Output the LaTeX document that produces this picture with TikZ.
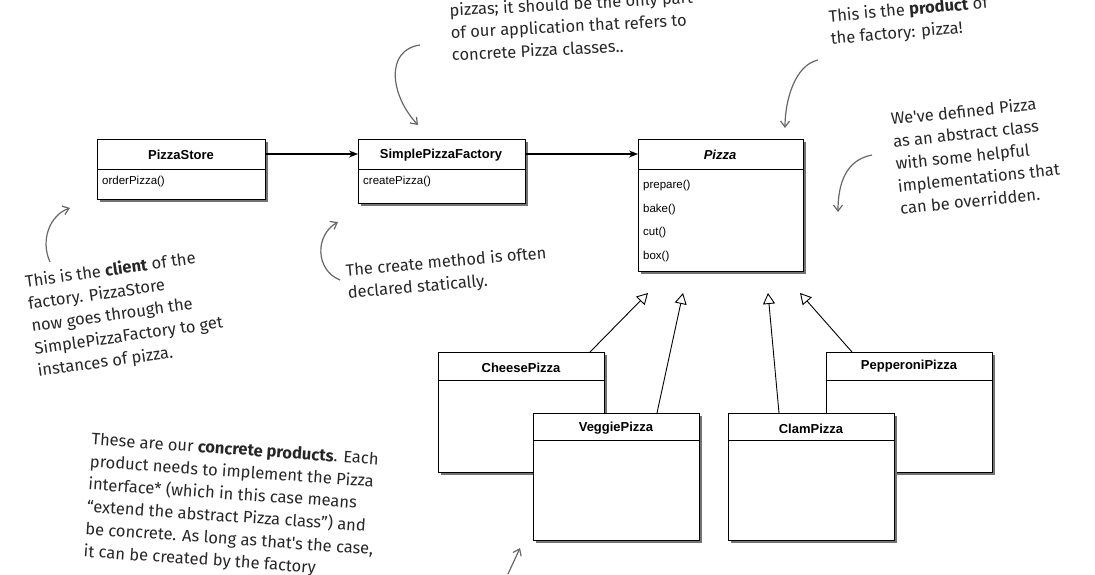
\documentclass[tikz,border=0pt]{standalone}
\usepackage{fontspec}
\setmainfont{Liberation Sans}
\newfontfamily\hand{Fira Sans}
\usetikzlibrary{arrows.meta,shadows}
\begin{document}
\begin{tikzpicture}[x=1pt,y=-1pt,
  cls/.style={draw=black,fill=white,line width=0.8pt,drop shadow={shadow xshift=3pt,shadow yshift=-3pt,fill=black!55,opacity=1}},
  hd/.style={font=\bfseries\fontsize{13}{15}\selectfont},
  op/.style={font=\fontsize{11.5}{23.5}\selectfont,anchor=north west,align=left,inner sep=0pt},
  note/.style={font=\hand\fontsize{16.5}{22.5}\selectfont,align=left,text=black!85,inner sep=0pt},
  cur/.style={draw=black!60,line width=1.2pt,-{Straight Barb[length=6pt,width=9pt]}},
  assoc/.style={line width=1.5pt,-{Stealth[length=9pt,width=7pt]}},
  inh/.style={line width=0.9pt,-{Triangle[open,length=11pt,width=12pt,fill=white]}}]
\useasboundingbox (0,0) rectangle (1095,574);
\begin{scope}
\clip (0,0) rectangle (1095,574);
% classes
\node[cls,minimum width=168pt,minimum height=60pt,anchor=north west] (ps) at (97,139) {};
\draw (ps.west |- 0,169) -- (ps.east |- 0,169);
\node[hd] (psn) at (181,155) {PizzaStore};
\node[op] (pso) at (102,176) {orderPizza()};

\node[cls,minimum width=167pt,minimum height=64pt,anchor=north west] (sf) at (358,139) {};
\draw (sf.west |- 0,169) -- (sf.east |- 0,169);
\node[hd] (sfn) at (441,155) {SimplePizzaFactory};
\node[op] (sfo) at (363,176) {createPizza()};

\node[cls,minimum width=165pt,minimum height=132pt,anchor=north west] (pz) at (638,139) {};
\draw (pz.west |- 0,169) -- (pz.east |- 0,169);
\node[hd,font=\bfseries\itshape\fontsize{13}{15}\selectfont] (pzn) at (720,155) {Pizza};
\node[op] (pzo) at (643,180) {prepare()\\bake()\\cut()\\box()};

\node[cls,minimum width=166pt,minimum height=120pt,anchor=north west] (ch) at (438,352) {};
\draw (ch.west |- 0,380) -- (ch.east |- 0,380);
\node[hd] (chn) at (521,368) {CheesePizza};

\node[cls,minimum width=166pt,minimum height=120pt,anchor=north west] (pp) at (826,352) {};
\draw (pp.west |- 0,380) -- (pp.east |- 0,380);
\node[hd] (ppn) at (909,366) {PepperoniPizza};

\node[cls,minimum width=166pt,minimum height=127pt,anchor=north west] (vg) at (533,413) {};
\draw (vg.west |- 0,440) -- (vg.east |- 0,440);
\node[hd] (vgn) at (616,428) {VeggiePizza};

\node[cls,minimum width=166pt,minimum height=127pt,anchor=north west] (cl) at (728,413) {};
\draw (cl.west |- 0,440) -- (cl.east |- 0,440);
\node[hd] (cln) at (811,429) {ClamPizza};

% connectors
\draw[assoc] (ps.east |- 0,154) -- (sf.west |- 0,154);
\draw[assoc] (sf.east |- 0,154) -- (pz.west |- 0,154);
\coordinate (t1) at (648,293); \coordinate (t2) at (683,293);
\coordinate (t3) at (768,293); \coordinate (t4) at (800,293);
\draw[inh] (ch.north -| 590,0) -- (t1);
\draw[inh] (vg.north -| 657,0) -- (t2);
\draw[inh] (cl.north -| 779,0) -- (t3);
\draw[inh] (pp.north -| 852,0) -- (t4);

% notes
\node[note,rotate=3,anchor=north west] (n1) at (449,3) {pizzas; it should be the only part\\of our application that refers to\\concrete Pizza classes..};
\node[note,rotate=5,anchor=north west] (n2) at (828,9) {This is the \textbf{product} of\\the factory: pizza!};
\node[note,rotate=6,anchor=north west] (n3) at (890,112) {We've defined Pizza\\as an abstract class\\with some helpful\\implementations that\\can be overridden.};
\node[note,rotate=8,anchor=north west] (n4) at (24,274) {This is the \textbf{client} of the\\factory. PizzaStore\\now goes through the\\SimplePizzaFactory to get\\instances of pizza.};
\node[note,rotate=5,anchor=north west] (n5) at (345,263) {The create method is often\\declared statically.};
\node[note,rotate=-4,anchor=north west] (n6) at (92,432) {These are our \textbf{concrete products}. Each\\product needs to implement the Pizza\\interface* (which in this case means\\“extend the abstract Pizza class”) and\\be concrete. As long as that's the case,\\it can be created by the factory};

% curvy arrows
\coordinate (a1) at (420,45); \coordinate (b1) at (418,125);
\draw[cur] (a1) .. controls (385,50) and (390,95) .. (b1);
\coordinate (a2) at (818,60); \coordinate (b2) at (785,128);
\draw[cur] (a2) .. controls (795,65) and (785,100) .. (b2);
\coordinate (a3) at (872,155); \coordinate (b3) at (838,212);
\draw[cur] (a3) .. controls (845,160) and (838,185) .. (b3);
\coordinate (a4) at (50,262); \coordinate (b4) at (70,208);
\draw[cur] (a4) .. controls (40,240) and (50,215) .. (b4);
\coordinate (a5) at (340,280); \coordinate (b5) at (338,222);
\draw[cur] (a5) .. controls (315,270) and (315,235) .. (b5);
\coordinate (a6) at (508,574); \coordinate (b6) at (520,548);
\draw[cur] (a6) -- (b6);
\end{scope}
\end{tikzpicture}
\end{document}
